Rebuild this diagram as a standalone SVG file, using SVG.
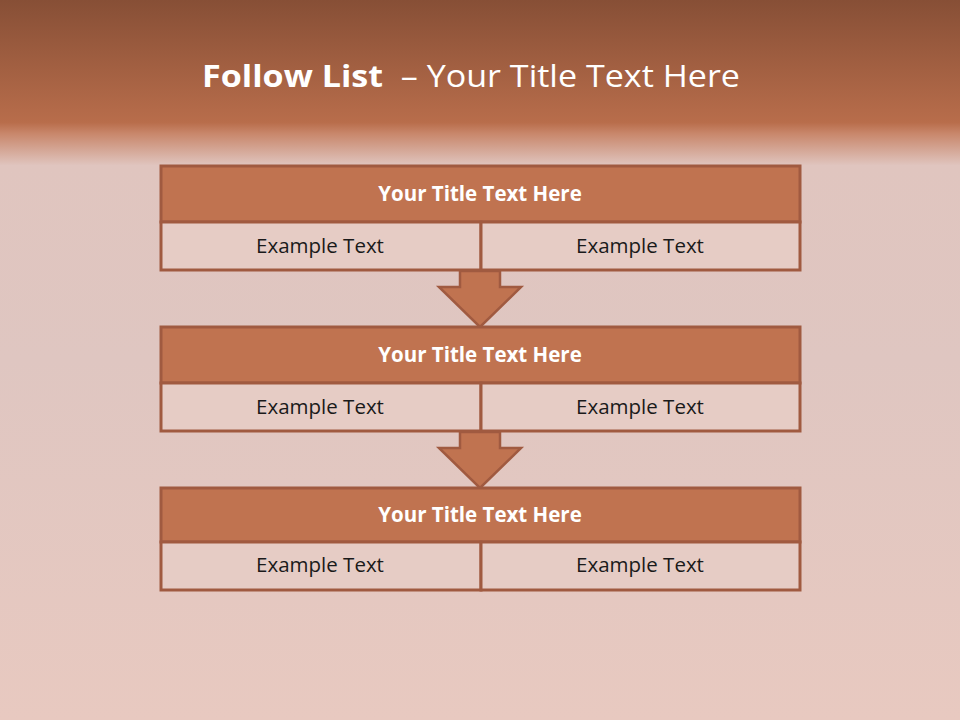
<svg xmlns="http://www.w3.org/2000/svg" width="960" height="720" viewBox="0 0 960 720">
<defs>
<linearGradient id="bg" x1="0" y1="0" x2="0" y2="1">
<stop offset="0" stop-color="#874f36"/>
<stop offset="0.17" stop-color="#b86d4b"/>
<stop offset="0.185" stop-color="#c8866a"/>
<stop offset="0.23" stop-color="#e0c5bf"/>
<stop offset="0.5" stop-color="#dfc6c1"/>
<stop offset="1" stop-color="#e8c9c0"/>
</linearGradient>
<style>
.hd{fill:#c07350;stroke:#a05a40;stroke-width:3}
.cell{fill:#e6ccc5;stroke:#a05a40;stroke-width:3}
.arr{fill:#c07350;stroke:#a05a40;stroke-width:2.5;stroke-linejoin:miter}
.ht{font-family:"Open Sans","Liberation Sans",sans-serif;font-weight:bold;font-size:20.5px;fill:#ffffff;text-anchor:middle}
.ct{font-family:"Open Sans","Liberation Sans",sans-serif;font-size:20.5px;fill:#1a1a1a;text-anchor:middle}
</style>
</defs>
<rect x="0" y="0" width="960" height="720" fill="url(#bg)"/>
<text x="471" y="87" text-anchor="middle" font-family="Open Sans, Liberation Sans, sans-serif" font-size="31" fill="#ffffff" textLength="538" lengthAdjust="spacingAndGlyphs"><tspan font-weight="bold">Follow List</tspan>&#160; – Your Title Text Here</text>
<g id="connectors">
<path class="arr" d="M460,271 L500,271 L500,287 L521,287 L480,327 L439,287 L460,287 Z"/>
<path class="arr" d="M460,432 L500,432 L500,448 L521,448 L480,488 L439,448 L460,448 Z"/>
</g>
<g id="node1">
<rect class="hd" x="161" y="166" width="639" height="56"/>
<rect class="cell" x="161" y="222" width="320" height="48"/>
<rect class="cell" x="481" y="222" width="319" height="48"/>
<text class="ht" x="480" y="201">Your Title Text Here</text>
<text class="ct" x="320" y="253">Example Text</text>
<text class="ct" x="640" y="253">Example Text</text>
</g>
<g id="node2">
<rect class="hd" x="161" y="327" width="639" height="56"/>
<rect class="cell" x="161" y="383" width="320" height="48"/>
<rect class="cell" x="481" y="383" width="319" height="48"/>
<text class="ht" x="480" y="362">Your Title Text Here</text>
<text class="ct" x="320" y="414">Example Text</text>
<text class="ct" x="640" y="414">Example Text</text>
</g>
<g id="node3">
<rect class="hd" x="161" y="488" width="639" height="54"/>
<rect class="cell" x="161" y="542" width="320" height="48"/>
<rect class="cell" x="481" y="542" width="319" height="48"/>
<text class="ht" x="480" y="522">Your Title Text Here</text>
<text class="ct" x="320" y="572">Example Text</text>
<text class="ct" x="640" y="572">Example Text</text>
</g>
</svg>
